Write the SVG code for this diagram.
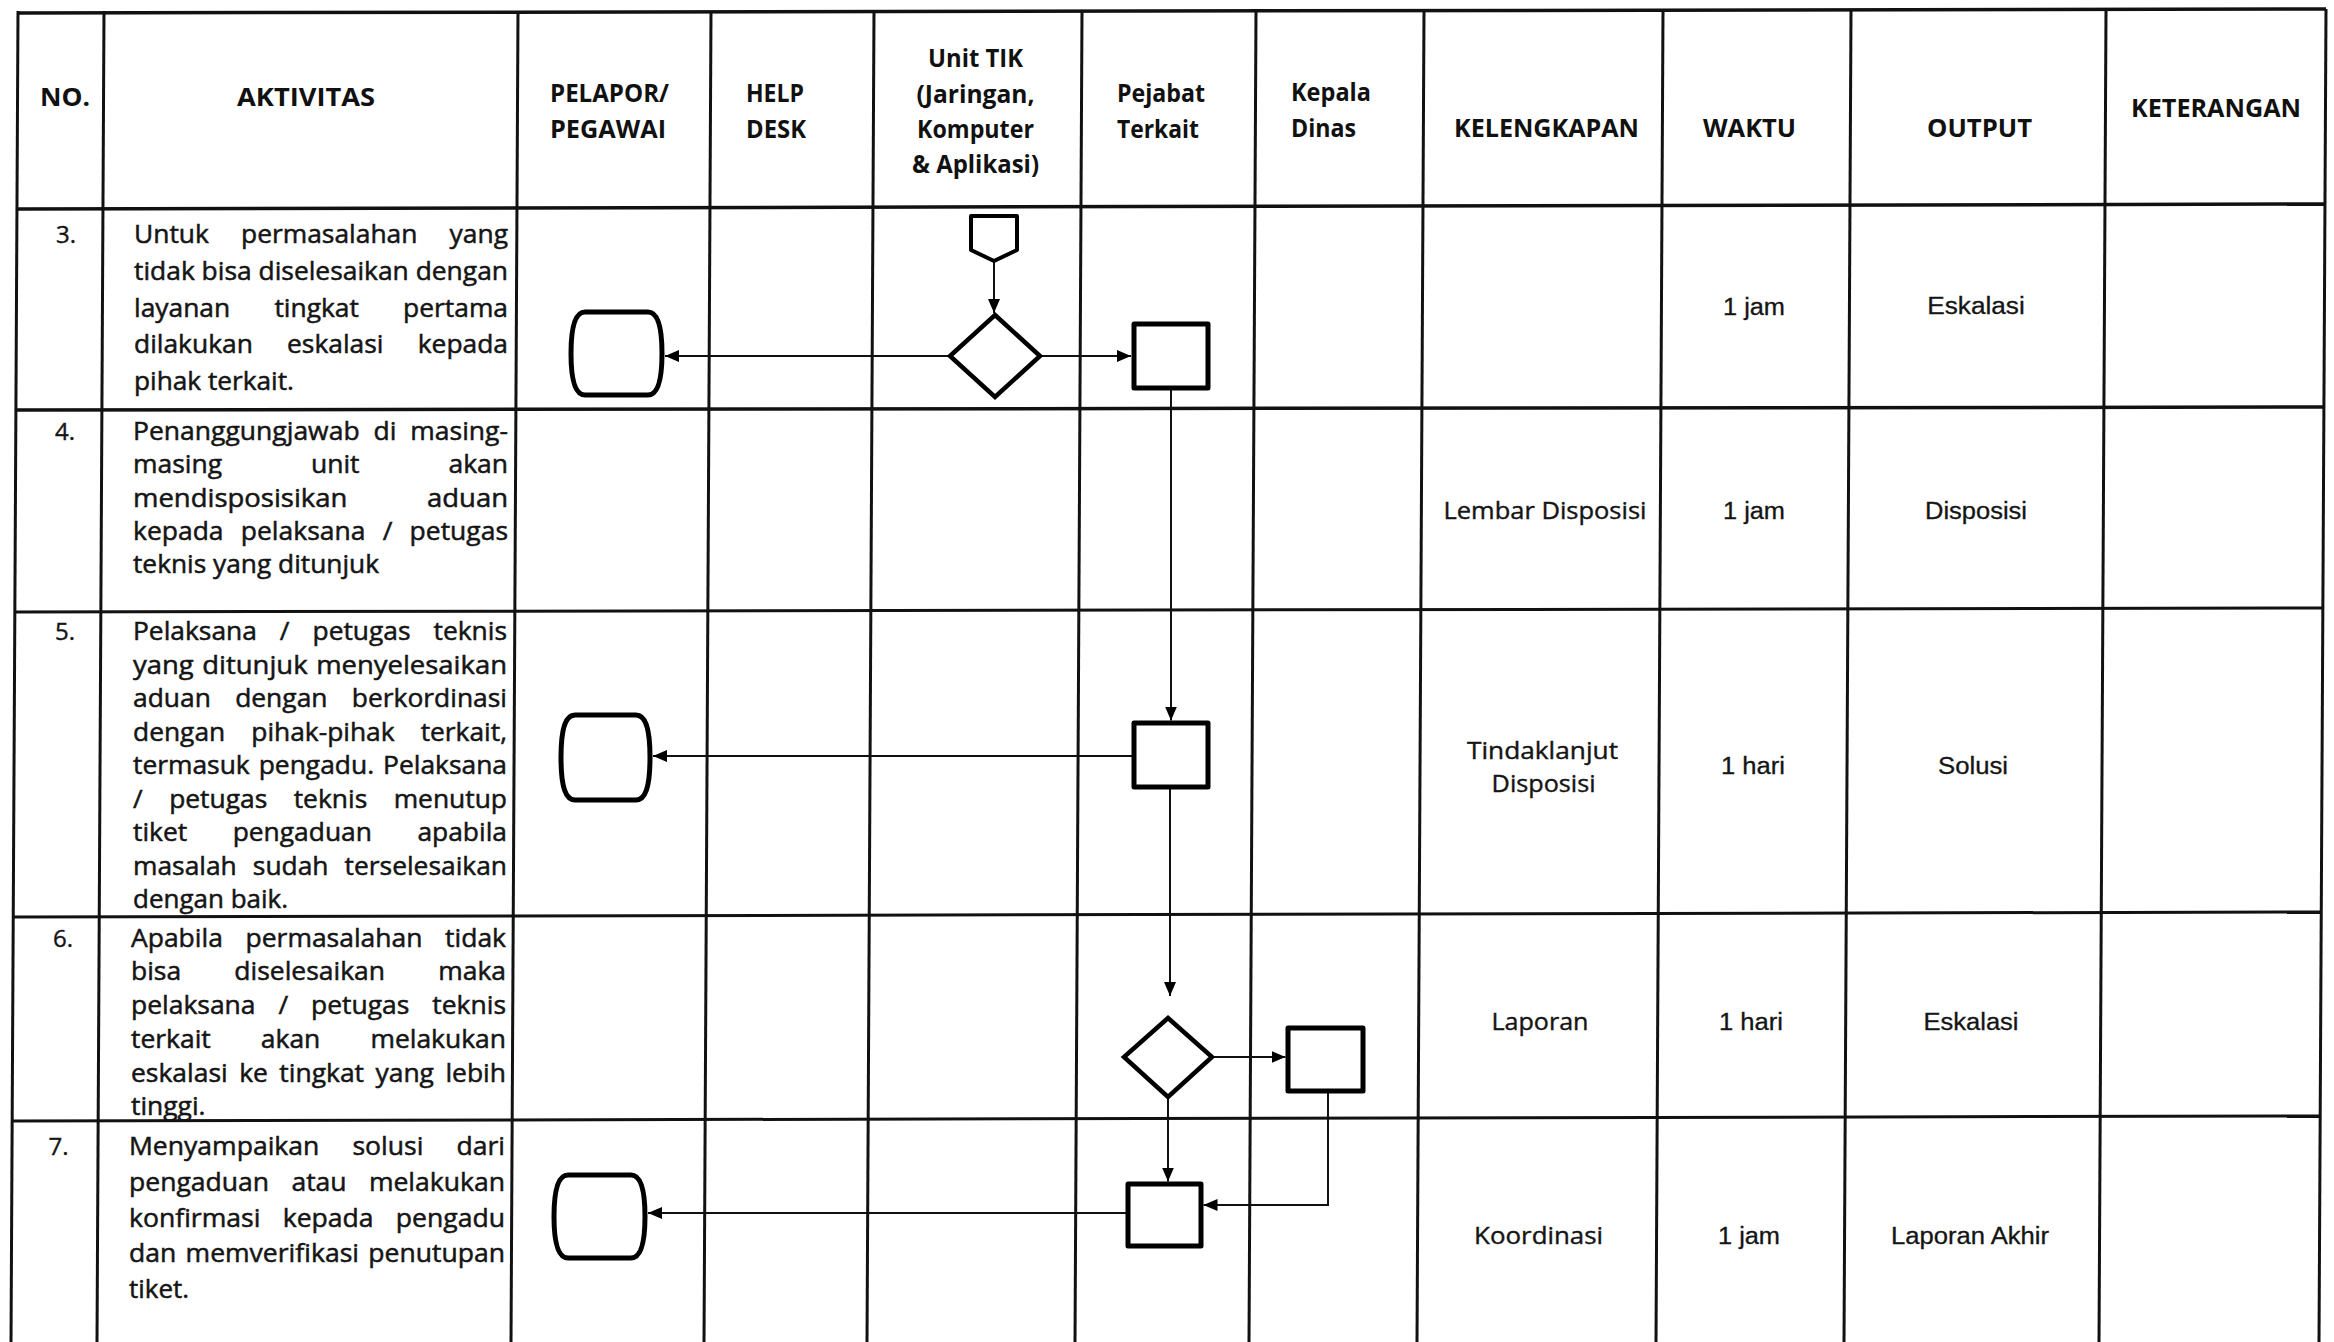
<svg xmlns="http://www.w3.org/2000/svg" width="2334" height="1342" viewBox="0 0 2334 1342">
<style>
.grid line{stroke:#111;stroke-width:3}
.h{font-family:"Open Sans","Liberation Sans",sans-serif;font-weight:bold;font-size:25px;fill:#111}
.b{font-family:"Open Sans","Liberation Sans",sans-serif;font-size:25px;fill:#151515;stroke:#151515;stroke-width:0.5}
.k{font-family:"Open Sans","Liberation Sans",sans-serif;font-size:24px;fill:#151515;stroke:#151515;stroke-width:0.4;text-anchor:middle}
.d{font-family:"Liberation Sans",Arial,sans-serif;font-size:23px;fill:#151515;stroke:#151515;stroke-width:0.3;text-anchor:middle}
.c{text-anchor:middle}
.shape{fill:#fff;stroke:#000;stroke-width:5;stroke-linejoin:round}
.dia{fill:#fff;stroke:#000;stroke-width:4.5;stroke-linejoin:miter}
.conn path{fill:none;stroke:#111;stroke-width:2;marker-end:url(#ah)}
</style>
<defs>
<marker id="ah" markerUnits="userSpaceOnUse" markerWidth="14" markerHeight="12" refX="14" refY="6" orient="auto">
<path d="M0,0 L14,6 L0,12 Z" fill="#000"/>
</marker>
</defs>
<rect width="2334" height="1342" fill="#fff"/>
<g id="grid" class="grid">
<line x1="18" y1="13" x2="2326" y2="9" style="stroke-width:3.5"/>
<line x1="17" y1="209" x2="2325" y2="204" style="stroke-width:3.5"/>
<line x1="16" y1="410" x2="2324" y2="407" style="stroke-width:3.5"/>
<line x1="15" y1="612" x2="2323" y2="608"/>
<line x1="14" y1="917" x2="2322" y2="912"/>
<line x1="12" y1="1121" x2="2320" y2="1116"/>
<line x1="18" y1="11" x2="11" y2="1342"/>
<line x1="104" y1="11" x2="97" y2="1342"/>
<line x1="518" y1="11" x2="511" y2="1342"/>
<line x1="711" y1="11" x2="704" y2="1342"/>
<line x1="874" y1="11" x2="867" y2="1342"/>
<line x1="1082" y1="11" x2="1075" y2="1342"/>
<line x1="1256" y1="11" x2="1249" y2="1342"/>
<line x1="1424" y1="11" x2="1417" y2="1342"/>
<line x1="1663" y1="11" x2="1656" y2="1342"/>
<line x1="1851" y1="11" x2="1844" y2="1342"/>
<line x1="2106" y1="11" x2="2099" y2="1342"/>
<line x1="2326" y1="9" x2="2319" y2="1342"/>
</g>
<g id="header" class="h">
<text x="65" y="106" class="c" textLength="50" lengthAdjust="spacingAndGlyphs">NO.</text>
<text x="306" y="106" class="c" textLength="138" lengthAdjust="spacingAndGlyphs">AKTIVITAS</text>
<text x="550" y="102" textLength="119" lengthAdjust="spacingAndGlyphs">PELAPOR/</text>
<text x="550" y="138" textLength="116" lengthAdjust="spacingAndGlyphs">PEGAWAI</text>
<text x="746" y="102" textLength="58" lengthAdjust="spacingAndGlyphs">HELP</text>
<text x="746" y="138" textLength="60" lengthAdjust="spacingAndGlyphs">DESK</text>
<text x="975.5" y="67" class="c" textLength="95" lengthAdjust="spacingAndGlyphs">Unit TIK</text>
<text x="975.5" y="103" class="c" textLength="118" lengthAdjust="spacingAndGlyphs">(Jaringan,</text>
<text x="975.5" y="138" class="c" textLength="117" lengthAdjust="spacingAndGlyphs">Komputer</text>
<text x="975.5" y="173" class="c" textLength="127" lengthAdjust="spacingAndGlyphs">&amp; Aplikasi)</text>
<text x="1117" y="102" textLength="88" lengthAdjust="spacingAndGlyphs">Pejabat</text>
<text x="1117" y="138" textLength="82" lengthAdjust="spacingAndGlyphs">Terkait</text>
<text x="1291" y="101" textLength="80" lengthAdjust="spacingAndGlyphs">Kepala</text>
<text x="1291" y="137" textLength="65" lengthAdjust="spacingAndGlyphs">Dinas</text>
<text x="1546.5" y="137" class="c" textLength="185" lengthAdjust="spacingAndGlyphs">KELENGKAPAN</text>
<text x="1749.5" y="137" class="c" textLength="93" lengthAdjust="spacingAndGlyphs">WAKTU</text>
<text x="1979.5" y="137" class="c" textLength="105" lengthAdjust="spacingAndGlyphs">OUTPUT</text>
<text x="2216" y="117" class="c" textLength="170" lengthAdjust="spacingAndGlyphs">KETERANGAN</text>
</g>
<g id="numbers" class="k">
<text x="66" y="243">3.</text>
<text x="65" y="440">4.</text>
<text x="65" y="640">5.</text>
<text x="63" y="946.7">6.</text>
<text x="58.6" y="1155">7.</text>
</g>
<g id="row3-aktivitas" class="b">
<text x="134" y="243.3" textLength="374" lengthAdjust="spacingAndGlyphs" word-spacing="24">Untuk permasalahan yang</text>
<text x="134" y="280" textLength="374" lengthAdjust="spacingAndGlyphs">tidak bisa diselesaikan dengan</text>
<text x="134" y="316.7" textLength="374" lengthAdjust="spacingAndGlyphs" word-spacing="35.4">layanan tingkat pertama</text>
<text x="134" y="353.4" textLength="374" lengthAdjust="spacingAndGlyphs" word-spacing="25.9">dilakukan eskalasi kepada</text>
<text x="134" y="390.1" textLength="160" lengthAdjust="spacingAndGlyphs">pihak terkait.</text>
</g>
<g id="row4-aktivitas" class="b">
<text x="133" y="440" textLength="375" lengthAdjust="spacingAndGlyphs" word-spacing="6.6">Penanggungjawab di masing-</text>
<text x="133" y="473.3" textLength="375" lengthAdjust="spacingAndGlyphs" word-spacing="77.5">masing unit akan</text>
<text x="133" y="506.5" textLength="375" lengthAdjust="spacingAndGlyphs" word-spacing="66">mendisposisikan aduan</text>
<text x="133" y="539.8" textLength="375" lengthAdjust="spacingAndGlyphs" word-spacing="9.8">kepada pelaksana / petugas</text>
<text x="133" y="573" textLength="246" lengthAdjust="spacingAndGlyphs">teknis yang ditunjuk</text>
</g>
<g id="row5-aktivitas" class="b">
<text x="133" y="640" textLength="374" lengthAdjust="spacingAndGlyphs" word-spacing="15.3">Pelaksana / petugas teknis</text>
<text x="133" y="673.5" textLength="374" lengthAdjust="spacingAndGlyphs" word-spacing="1.3">yang ditunjuk menyelesaikan</text>
<text x="133" y="707" textLength="374" lengthAdjust="spacingAndGlyphs" word-spacing="16.5">aduan dengan berkordinasi</text>
<text x="133" y="740.5" textLength="374" lengthAdjust="spacingAndGlyphs" word-spacing="18.2">dengan pihak-pihak terkait,</text>
<text x="133" y="774" textLength="374" lengthAdjust="spacingAndGlyphs" word-spacing="2">termasuk pengadu. Pelaksana</text>
<text x="133" y="807.5" textLength="374" lengthAdjust="spacingAndGlyphs" word-spacing="18.6">/ petugas teknis menutup</text>
<text x="133" y="841" textLength="374" lengthAdjust="spacingAndGlyphs" word-spacing="36.6">tiket pengaduan apabila</text>
<text x="133" y="874.5" textLength="374" lengthAdjust="spacingAndGlyphs" word-spacing="8.7">masalah sudah terselesaikan</text>
<text x="133" y="908" textLength="155" lengthAdjust="spacingAndGlyphs">dengan baik.</text>
</g>
<g id="row6-aktivitas" class="b">
<text x="131" y="946.7" textLength="375" lengthAdjust="spacingAndGlyphs" word-spacing="14.9">Apabila permasalahan tidak</text>
<text x="131" y="980.4" textLength="375" lengthAdjust="spacingAndGlyphs" word-spacing="43.7">bisa diselesaikan maka</text>
<text x="131" y="1014.1" textLength="375" lengthAdjust="spacingAndGlyphs" word-spacing="15.2">pelaksana / petugas teknis</text>
<text x="131" y="1047.8" textLength="375" lengthAdjust="spacingAndGlyphs" word-spacing="40.9">terkait akan melakukan</text>
<text x="131" y="1081.5" textLength="375" lengthAdjust="spacingAndGlyphs" word-spacing="4.3">eskalasi ke tingkat yang lebih</text>
<text x="131" y="1115.2" textLength="74.5" lengthAdjust="spacingAndGlyphs">tinggi.</text>
</g>
<g id="row7-aktivitas" class="b">
<text x="129" y="1155" textLength="376" lengthAdjust="spacingAndGlyphs" word-spacing="24.7">Menyampaikan solusi dari</text>
<text x="129" y="1190.8" textLength="376" lengthAdjust="spacingAndGlyphs" word-spacing="14.5">pengaduan atau melakukan</text>
<text x="129" y="1226.6" textLength="376" lengthAdjust="spacingAndGlyphs" word-spacing="14.5">konfirmasi kepada pengadu</text>
<text x="129" y="1262.4" textLength="376" lengthAdjust="spacingAndGlyphs" word-spacing="2.25">dan memverifikasi penutupan</text>
<text x="129" y="1298.2" textLength="60" lengthAdjust="spacingAndGlyphs">tiket.</text>
</g>
<g id="kelengkapan" class="k">
<text x="1545" y="519" textLength="203" lengthAdjust="spacingAndGlyphs">Lembar Disposisi</text>
<text x="1542.5" y="759" textLength="151" lengthAdjust="spacingAndGlyphs">Tindaklanjut</text>
<text x="1543.6" y="792" textLength="104" lengthAdjust="spacingAndGlyphs">Disposisi</text>
<text x="1540" y="1029.5" textLength="97" lengthAdjust="spacingAndGlyphs">Laporan</text>
<text x="1538.6" y="1243.5" textLength="129" lengthAdjust="spacingAndGlyphs">Koordinasi</text>
</g>
<g id="waktu" class="d">
<text x="1754" y="315" textLength="62" lengthAdjust="spacingAndGlyphs">1 jam</text>
<text x="1754" y="519" textLength="62" lengthAdjust="spacingAndGlyphs">1 jam</text>
<text x="1753" y="773.5" textLength="64" lengthAdjust="spacingAndGlyphs">1 hari</text>
<text x="1751" y="1029.5" textLength="64" lengthAdjust="spacingAndGlyphs">1 hari</text>
<text x="1749" y="1243.5" textLength="62" lengthAdjust="spacingAndGlyphs">1 jam</text>
</g>
<g id="output" class="d">
<text x="1976" y="314" textLength="97.5" lengthAdjust="spacingAndGlyphs">Eskalasi</text>
<text x="1976" y="519" textLength="102" lengthAdjust="spacingAndGlyphs">Disposisi</text>
<text x="1973" y="773.5" textLength="70" lengthAdjust="spacingAndGlyphs">Solusi</text>
<text x="1971" y="1029.5" textLength="95" lengthAdjust="spacingAndGlyphs">Eskalasi</text>
<text x="1970" y="1243.5" textLength="158" lengthAdjust="spacingAndGlyphs">Laporan Akhir</text>
</g>
<g id="connectors" class="conn">
<path d="M994,262 V313"/>
<path d="M950,356 H665"/>
<path d="M1040,356 H1131"/>
<path d="M1171,388 V720.5"/>
<path d="M1134,756 H653"/>
<path d="M1170,787 V996"/>
<path d="M1212,1057 H1285.5"/>
<path d="M1168,1097 V1181.5"/>
<path d="M1328,1091 V1205 H1203.5"/>
<path d="M1128,1213 H648"/>
</g>
<g id="offpage-3"><polygon class="shape" style="stroke-width:4" points="971,216 1017,216 1017,250 994,261 971,250"/></g>
<g id="decision-3"><polygon class="dia" points="995,315 1040,356 995,397 950,356"/></g>
<g id="terminator-3"><path class="shape" d="M585,312 H648 C657,312 662,324 662,353.5 C662,383 657,395 648,395 H585 C576,395 571,383 571,353.5 C571,324 576,312 585,312 Z"/></g>
<g id="process-3"><rect class="shape" x="1134" y="324" width="74" height="64"/></g>
<g id="process-5"><rect class="shape" x="1134" y="723" width="74" height="64"/></g>
<g id="terminator-5"><path class="shape" d="M575,715 H636 C645,715 650,727 650,757.5 C650,788 645,800 636,800 H575 C566,800 561,788 561,757.5 C561,727 566,715 575,715 Z"/></g>
<g id="decision-6"><polygon class="dia" points="1168,1018 1212,1057 1168,1097 1124,1057"/></g>
<g id="process-6-kepala"><rect class="shape" x="1288" y="1028" width="75" height="63"/></g>
<g id="process-7"><rect class="shape" x="1128" y="1184" width="73" height="62"/></g>
<g id="terminator-7"><path class="shape" d="M568,1175 H631 C640,1175 645,1187 645,1216.5 C645,1246 640,1258 631,1258 H568 C559,1258 554,1246 554,1216.5 C554,1187 559,1175 568,1175 Z"/></g>
</svg>
